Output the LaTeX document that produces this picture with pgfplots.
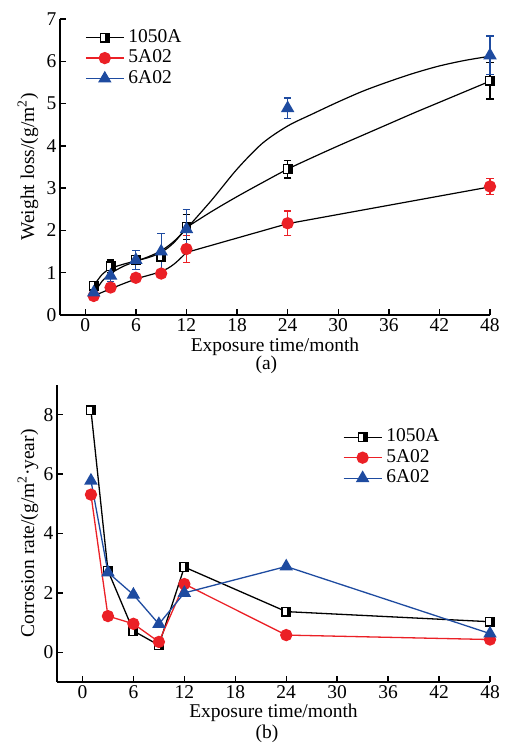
\documentclass[border=0pt]{standalone}
\usepackage{fontspec}
\setmainfont{Liberation Serif}
\usepackage{pgfplots}
\usepackage{pgfplotstable}
\pgfplotsset{compat=1.18}

\definecolor{cred}{RGB}{235,32,38}
\definecolor{cblue}{RGB}{30,75,160}

% square marker, open on the left and filled on the right
\pgfdeclareplotmark{halfsquare}{%
  \pgfpathrectangle{\pgfqpoint{-\pgfplotmarksize}{-\pgfplotmarksize}}{\pgfqpoint{2\pgfplotmarksize}{2\pgfplotmarksize}}%
  \pgfsetfillcolor{white}\pgfusepathqfillstroke
  \pgfpathrectangle{\pgfqpoint{0.15\pgfplotmarksize}{-\pgfplotmarksize}}{\pgfqpoint{0.85\pgfplotmarksize}{2\pgfplotmarksize}}%
  \pgfsetfillcolor{black}\pgfusepathqfill
}

% weight loss (g/m^2): month, mean, error
\pgfplotstableread{
x y e
1 0.69 0.05
3 1.15 0.15
6 1.31 0.10
9 1.38 0.12
12 2.08 0.30
24 3.45 0.21
48 5.54 0.43
}\wlA
\pgfplotstableread{
x y e
1 0.45 0.04
3 0.65 0.05
6 0.88 0.05
9 0.98 0.08
12 1.56 0.32
24 2.17 0.29
48 3.04 0.19
}\wlB
\pgfplotstableread{
x y e
1 0.53 0.05
3 0.93 0.14
6 1.30 0.22
9 1.50 0.42
12 2.03 0.46
24 4.89 0.24
48 6.14 0.46
}\wlC

% corrosion rate (g/m^2/year)
\pgfplotstableread{
x y
1 8.15
3 2.75
6 0.72
9 0.24
12 2.87
24 1.37
48 1.03
}\crA
\pgfplotstableread{
x y
1 5.31
3 1.22
6 0.96
9 0.35
12 2.30
24 0.58
48 0.43
}\crB
\pgfplotstableread{
x y
1 5.78
3 2.69
6 1.94
9 0.95
12 2.00
24 2.89
48 0.63
}\crC

\newcommand\figfont{\fontsize{19.5}{22}\selectfont}

\pgfplotsset{
  panel/.style={
    scale only axis,
    axis x line=bottom, axis y line=left,
    axis line style={-, line width=1.6pt},
    tick align=inside,
    major tick length=6pt,
    tick style={line width=1.4pt, black},
    xmin=-3, xmax=48,
    xtick={0,6,...,48},
    font=\figfont,
    /pgf/number format/assume math mode=true,
    clip=false,
    legend cell align=left,
    legend image code/.code={%
      \draw[mark repeat=2,mark phase=2] plot coordinates {(0pt,0pt)(19pt,0pt)(38pt,0pt)};},
    legend style={draw=none, fill=none, inner sep=0pt, row sep=1.5pt,
      nodes={inner ysep=1pt, inner xsep=4pt, text height=13pt, text depth=4pt}, font=\figfont},
  },
  mA/.style={black, mark=halfsquare, mark size=4.3pt, line width=1.3pt},
  mB/.style={cred, mark=*, mark size=5.5pt, mark options={fill=cred, draw=cred}, line width=1.3pt},
  mC/.style={cblue, mark=triangle*, mark size=6.5pt, mark options={fill=cblue, draw=cblue}, line width=1.3pt},
  fit/.style={black, line width=1.2pt, forget plot},
  ebar/.style={error bars/.cd, y dir=both, y explicit,
    error bar style={line width=1.2pt, #1},
    error mark options={rotate=90, mark size=3.8pt, line width=1.2pt, #1},
    /pgfplots/.cd},
}

\begin{document}
\begin{tikzpicture}[font=\figfont]
\useasboundingbox (0pt,0pt) rectangle (507pt,-744pt);

% (a) weight loss
\begin{axis}[panel,
  at={(60pt,-315pt)}, anchor=south west,
  width=430pt, height=296pt,
  ymin=0, ymax=7, ytick={0,1,...,7},
  xlabel={Exposure time/month},
  ylabel={Weight loss/(g/m\textsuperscript{2})},
  xlabel style={at={(axis description cs:0.5,-0.108)}, anchor=center},
  ylabel style={at={(axis description cs:-0.0744,0.5)}, anchor=center},
  legend style={at={(axis description cs:0.058,0.97)}, anchor=north west},
]
\addlegendimage{mA}
\addlegendentry{1050A}
\addlegendimage{mB}
\addlegendentry{5A02}
\addlegendimage{mC}
\addlegendentry{6A02}

% fitted trends, early and late stages
\addplot[fit, smooth, tension=0.55] coordinates {
 (1,0.69) (2,0.96) (3,1.10) (4.5,1.20) (6,1.28) (7.5,1.36) (9,1.48) (10.5,1.71) (12,2.07)};
\addplot[fit, smooth, tension=0.5] coordinates {
 (12,2.07) (15,2.45) (18,2.80) (21,3.13) (24,3.45) (27,3.73) (30,4.00) (33,4.26)
 (36,4.52) (39,4.78) (42,5.03) (45,5.28) (48,5.53)};
\addplot[fit, smooth, tension=0.55] coordinates {
 (1,0.45) (3,0.62) (6,0.85) (9,1.03) (10.5,1.20) (12,1.48)};
\addplot[fit] coordinates {(12,1.48) (24,2.16) (48,3.03)};
\addplot[fit, smooth, tension=0.55] coordinates {
 (1,0.50) (2,0.80) (3,0.98) (4.5,1.15) (6,1.27) (7.5,1.38) (9,1.52) (10.5,1.74) (12,2.04)};
\addplot[fit, smooth, tension=0.5] coordinates {
 (12,2.04) (15,2.72) (18,3.45) (21,4.06) (24,4.47) (27,4.76) (30,5.04) (33,5.30)
 (36,5.52) (39,5.72) (42,5.89) (45,6.02) (48,6.12)};

% measured values
\addplot[forget plot, mA, only marks, ebar=black] table[x=x, y=y, y error=e] {\wlA};
\addplot[forget plot, mB, only marks, ebar=cred] table[x=x, y=y, y error=e] {\wlB};
\addplot[forget plot, mC, only marks, ebar=cblue] table[x=x, y=y, y error=e] {\wlC};

\node at (axis description cs:0.48,-0.169) {(a)};
\end{axis}

% (b) corrosion rate
\begin{axis}[panel,
  at={(57pt,-682pt)}, anchor=south west,
  width=433pt, height=297pt,
  ymin=-1, ymax=9, ytick={0,2,...,8},
  xlabel={Exposure time/month},
  ylabel={Corrosion rate/(g/m\textsuperscript{2}·year)},
  xlabel style={at={(axis description cs:0.5,-0.105)}, anchor=center},
  ylabel style={at={(axis description cs:-0.067,0.5)}, anchor=center},
  legend style={at={(axis description cs:0.66,0.857)}, anchor=north west},
]
\addplot[mA] table[x=x, y=y] {\crA};
\addlegendentry{1050A}
\addplot[mB] table[x=x, y=y] {\crB};
\addlegendentry{5A02}
\addplot[mC] table[x=x, y=y] {\crC};
\addlegendentry{6A02}

\node at (axis description cs:0.485,-0.175) {(b)};
\end{axis}
\end{tikzpicture}
\end{document}
